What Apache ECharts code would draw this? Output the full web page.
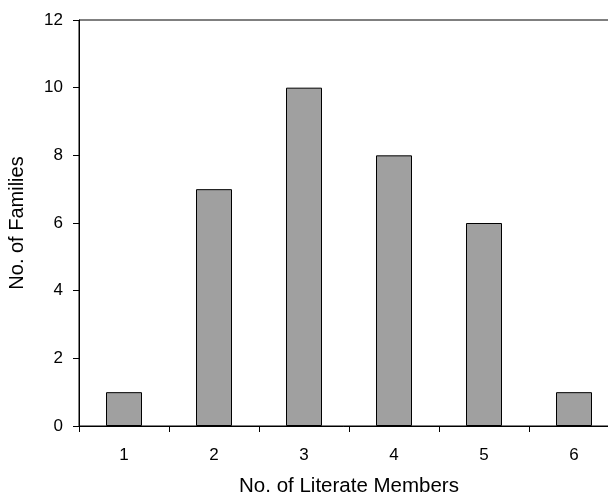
<!DOCTYPE html>
<html>
<head>
<meta charset="utf-8">
<script src="https://cdn.jsdelivr.net/npm/echarts@6/dist/echarts.min.js"></script>
<style>html,body{margin:0;padding:0;background:#fff}#c{width:608px;height:496px}</style>
</head>
<body>
<div id="c"></div>
<script>
const categories = ['1', '2', '3', '4', '5', '6'];
const families = [1, 7, 10, 8, 6, 1];
const xTitle = 'No. of Literate Members';
const yTitle = 'No. of Families';

const chart = echarts.init(document.getElementById('c'), null, {renderer: 'canvas'});
const font = 'Liberation Sans, Arial, sans-serif';
chart.setOption({
  animation: false,
  grid: {left: 79, top: 20, width: 540, height: 406, show: true, borderColor: '#000', borderWidth: 1,
         containLabel: false, outerBoundsMode: 'none'},
  xAxis: {
    type: 'category', data: categories,
    name: xTitle, nameLocation: 'middle', nameGap: 50,
    nameTextStyle: {fontFamily: font, fontSize: 20.5, color: '#000'},
    axisLine: {lineStyle: {color: '#000', width: 1}},
    axisTick: {show: true, length: 6, lineStyle: {color: '#000'}, alignWithLabel: false},
    axisLabel: {fontFamily: font, fontSize: 17, color: '#000', margin: 21},
    splitLine: {show: false}
  },
  yAxis: {
    type: 'value', min: 0, max: 12, interval: 2,
    name: yTitle, nameLocation: 'middle', nameGap: 52,
    nameTextStyle: {fontFamily: font, fontSize: 20, color: '#000'},
    axisLine: {show: true, lineStyle: {color: '#000', width: 1}},
    axisTick: {show: true, length: 6, lineStyle: {color: '#000'}},
    axisLabel: {fontFamily: font, fontSize: 17, color: '#000', margin: 16},
    splitLine: {show: false}
  },
  series: [{
    type: 'bar', data: families, barWidth: '40%',
    itemStyle: {color: '#a0a0a0', borderColor: '#000', borderWidth: 1}
  }]
});
</script>
</body>
</html>
